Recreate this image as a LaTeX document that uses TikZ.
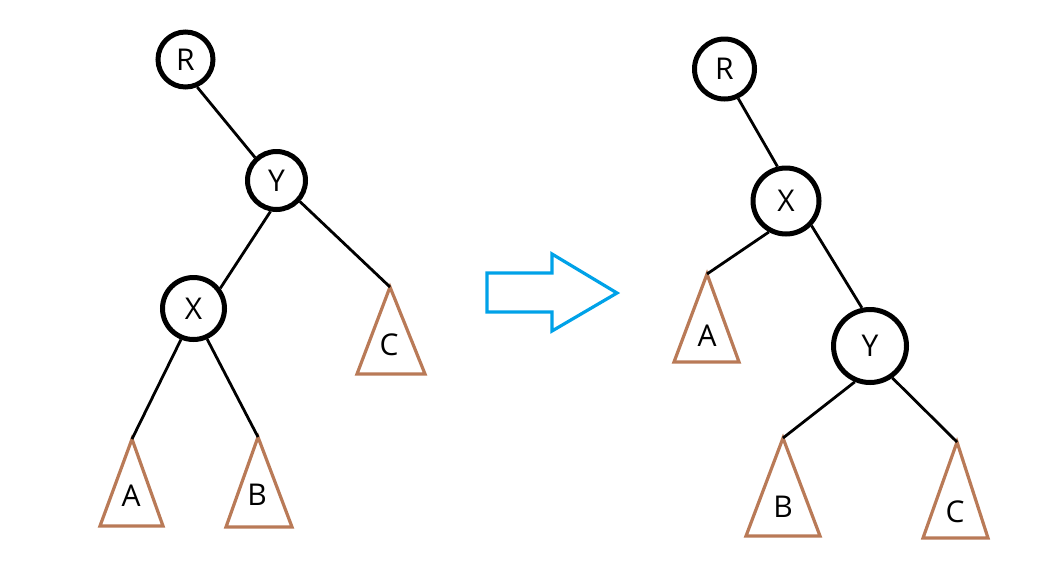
\documentclass[tikz,border=0pt]{standalone}
\usepackage{fontspec}
\setmainfont{Open Sans}
\definecolor{treebrown}{RGB}{185,122,87}
\definecolor{arrowcyan}{RGB}{0,162,232}
\begin{document}
\begin{tikzpicture}[x=1pt,y=-1pt,
  tnode/.style={circle,draw=black,line width=5pt,inner sep=0pt,font=\fontsize{30}{34}\selectfont},
  edge/.style={draw=black,line width=2.8pt},
  subtree/.style={draw=treebrown,line width=3.2pt,line join=miter},
  lbl/.style={inner sep=0pt,font=\fontsize{30}{34}\selectfont},
  bigarrow/.style={draw=arrowcyan,line width=3.2pt,line join=miter}]
\useasboundingbox (0,0) rectangle (1064,579);
% ---------- left tree ----------
\node[tnode,minimum size=55pt] (lR) at (185.5,59.5) {R};
\node[tnode,minimum size=58pt] (lY) at (276.5,180.5) {Y};
\node[tnode,minimum size=62pt] (lX) at (193.5,308.5) {X};
\coordinate (lA) at (132,439);
\coordinate (lB) at (258,437);
\coordinate (lC) at (390,287);
\draw[subtree] (lA) -- ++(-32,87) -- ++(63,0) -- cycle;
\draw[subtree] (lB) -- ++(-32,90) -- ++(66,0) -- cycle;
\draw[subtree] (lC) -- ++(-33,87) -- ++(68,0) -- cycle;
\node[lbl] (lAt) at (131,496) {A};
\node[lbl] (lBt) at (257,495) {B};
\node[lbl] (lCt) at (389,345) {C};
\draw[edge] (lR.-67) -- (lY.133);
\draw[edge] (lY.-101) -- (lX.37);
\draw[edge] (lY.-42) -- (lC);
\draw[edge] (lX.-112) -- (lA);
\draw[edge] (lX.-66) -- (lB);
% ---------- arrow ----------
\draw[bigarrow] (487,273) -- (552,273) -- (552,254) -- (617,293) -- (552,331) -- (552,312) -- (487,312) -- cycle;
% ---------- right tree ----------
\node[tnode,minimum size=60pt] (rR) at (724.5,69) {R};
\node[tnode,minimum size=66pt] (rX) at (786,201) {X};
\node[tnode,minimum size=73pt] (rY) at (870,346) {Y};
\coordinate (rA) at (707,274);
\coordinate (rB) at (783,438);
\coordinate (rC) at (957,442);
\draw[subtree] (rA) -- ++(-33,88) -- ++(65,0) -- cycle;
\draw[subtree] (rB) -- ++(-37,98) -- ++(74,0) -- cycle;
\draw[subtree] (rC) -- ++(-34,96) -- ++(65,0) -- cycle;
\node[lbl] (rAt) at (707,336) {A};
\node[lbl] (rBt) at (783,507) {B};
\node[lbl] (rCt) at (955,512) {C};
\draw[edge] (rR.-65) -- (rX.104);
\draw[edge] (rX.-119) -- (rA);
\draw[edge] (rX.-44) -- (rY.102);
\draw[edge] (rY.-113) -- (rB);
\draw[edge] (rY.-55) -- (rC);
\end{tikzpicture}
\end{document}
